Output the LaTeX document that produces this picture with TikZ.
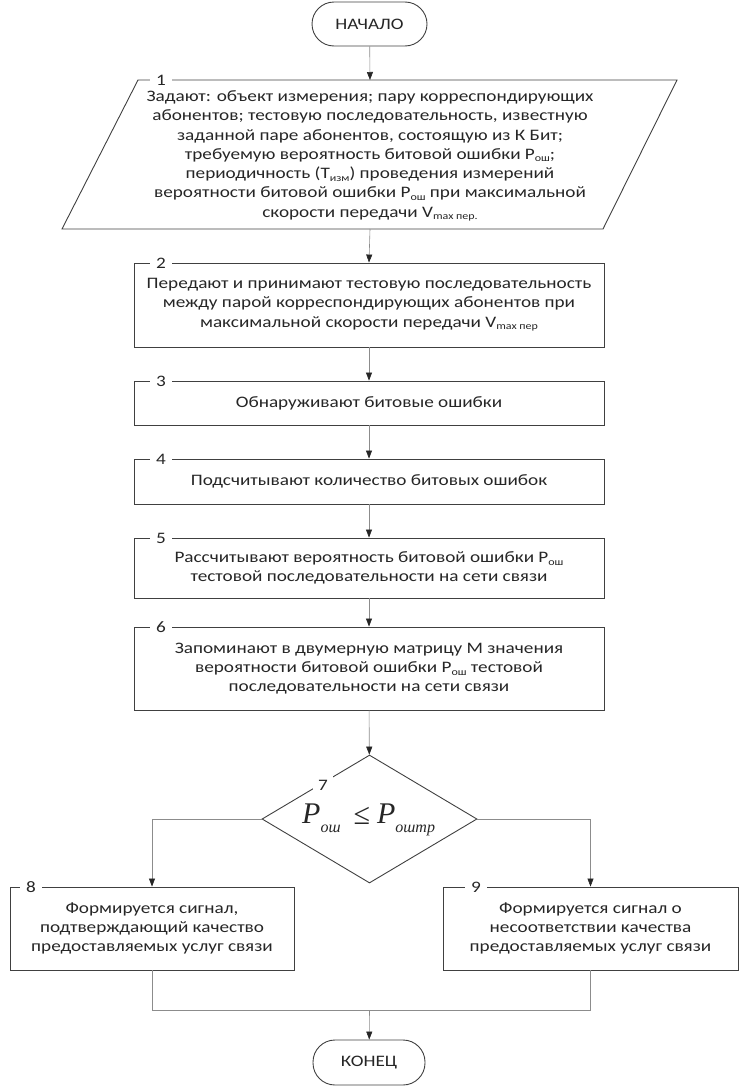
\documentclass[tikz,border=0pt]{standalone}
\usepackage{fontspec}
\setmainfont{Carlito}[FakeStretch=1.2]
\newfontfamily\tms{Liberation Serif}
\usetikzlibrary{arrows.meta,shapes.geometric}
\newcommand\lo[1]{\raisebox{-0.35ex}{\fontsize{10}{10}\selectfont #1}}
\newcommand\mlo[1]{\raisebox{-9pt}{\fontsize{16}{16}\selectfont #1}}
\begin{document}
\begin{tikzpicture}[x=1pt,y=-1pt,
  txt/.style={font=\fontsize{16}{19.3}\selectfont, text=black!85, align=center},
  boxs/.style={txt, draw=black!75, line width=0.9pt, rectangle, inner sep=0pt},
  term/.style={boxs, rounded corners=22pt},
  num/.style={font=\fontsize{16}{16}\selectfont, text=black!85, fill=white, inner xsep=6pt, inner ysep=1pt},
  conn/.style={draw=black!45, line width=0.6pt},
  arr/.style={conn, -{Triangle[length=8pt,width=6pt,color=black!85]}}
]
\useasboundingbox (0,0) rectangle (740,1087);

\node[term, minimum width=115pt, minimum height=44pt] (start) at (369.5,24) {НАЧАЛО};

% parallelogram 1
\node[txt, minimum width=460pt, minimum height=149pt, inner sep=0pt] (b1) at (370,156) {Задают: объект измерения; пару корреспондирующих\\
абонентов; тестовую последовательность, известную\\
заданной паре абонентов, состоящую из К Бит;\\
требуемую вероятность битовой ошибки P\lo{ош};\\
периодичность (T\lo{изм}) проведения измерений\\
вероятности битовой ошибки P\lo{ош} при максимальной\\
скорости передачи V\lo{max пер.}};
\draw[draw=black!75, line width=0.9pt] (138,80) -- (677,80) -- (603,229) -- (62,229) -- cycle;
\node[num] (n1) at (161,80) {1};

\node[boxs, minimum width=470pt, minimum height=84pt] (b2) at (369,305) {Передают и принимают тестовую последовательность\\
между парой корреспондирующих абонентов при\\
максимальной скорости передачи V\lo{max пер}};
\node[num] (n2) at (161,263) {2};

\node[boxs, minimum width=470pt, minimum height=44pt] (b3) at (369,403) {Обнаруживают битовые ошибки};
\node[num] (n3) at (161,381) {3};

\node[boxs, minimum width=470pt, minimum height=45pt] (b4) at (369,481.5) {Подсчитывают количество битовых ошибок};
\node[num] (n4) at (161,459) {4};

\node[boxs, minimum width=470pt, minimum height=60pt] (b5) at (369,568) {Рассчитывают вероятность битовой ошибки P\lo{ош}\\
тестовой последовательности на сети связи};
\node[num] (n5) at (161,538) {5};

\node[boxs, minimum width=470pt, minimum height=83pt] (b6) at (369,668.5) {Запоминают в двумерную матрицу М значения\\
вероятности битовой ошибки P\lo{ош} тестовой\\
последовательности на сети связи};
\node[num] (n6) at (161,627) {6};

\node[diamond, draw=black!75, line width=0.9pt, minimum width=215pt, minimum height=128pt, inner sep=0pt] (d) at (369.5,819) {};
\node[text=black!85, inner sep=0pt, anchor=base west] (dt) at (302,823) {\tms\itshape\fontsize{30}{30}\selectfont P\mlo{ош}\hspace{13pt}{\upshape\raisebox{-1pt}{≤}}\hspace{7pt}P\mlo{оштр}};
\node[num, inner xsep=5pt, inner ysep=5pt] (n7) at (323,785) {7};

\node[boxs, minimum width=284pt, minimum height=83pt] (b8) at (152,928.5) {Формируется сигнал,\\
подтверждающий качество\\
предоставляемых услуг связи};
\node[num] (n8) at (31,887) {8};

\node[boxs, minimum width=295pt, minimum height=83pt] (b9) at (590.5,928.5) {Формируется сигнал о\\
несоответствии качества\\
предоставляемых услуг связи};
\node[num] (n9) at (476,887) {9};

\node[term, minimum width=112pt, minimum height=45pt] (end) at (369,1062.5) {КОНЕЦ};

\coordinate (m) at (369.5,1010);

\draw[arr] (start) -- (370,80);
\draw[arr] (370,229) -- (b2.north);
\draw[arr] (b2) -- (b3);
\draw[arr] (b3) -- (b4);
\draw[arr] (b4) -- (b5);
\draw[arr] (b5) -- (b6);
\draw[arr] (b6) -- (d);
\draw[arr] (d.west) -| (b8.north);
\draw[arr] (d.east) -| (b9.north);
\draw[conn] (b8.south) |- (m);
\draw[conn] (b9.south) |- (m);
\draw[arr] (m) -- (end);
\end{tikzpicture}
\end{document}
